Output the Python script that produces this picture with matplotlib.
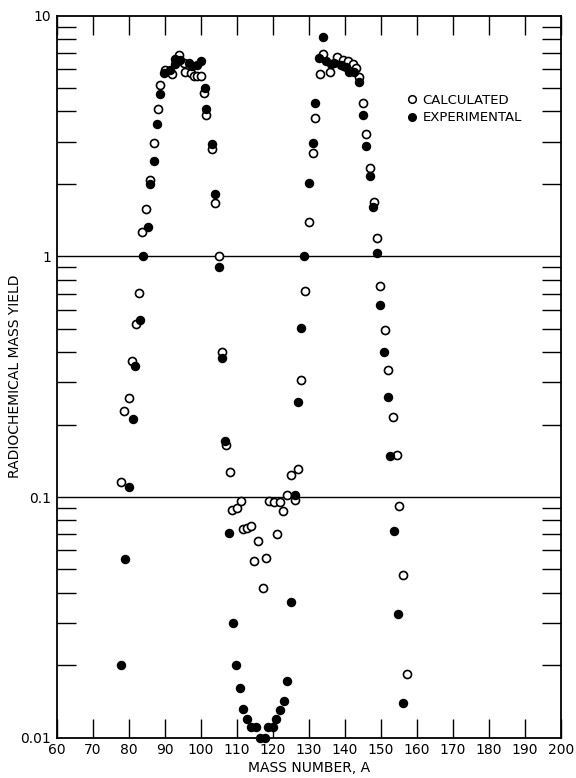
import matplotlib
matplotlib.use("Agg")
import matplotlib.pyplot as plt
from matplotlib.lines import Line2D
import numpy as np

# calculated yields (open circles)
mass_calc = [78.0, 78.8, 80.0, 80.9, 82.0, 82.9, 83.8, 84.8, 85.9, 87.0, 88.2, 88.8,
             90.0, 92.2, 94.1, 95.3, 95.8, 97.2, 98.1, 99.0, 100.2, 100.9, 101.6,
             103.2, 103.9, 105.0, 105.9, 107.0, 108.1, 108.8, 110.0, 111.1, 111.9,
             113.0, 114.1, 114.9, 115.9, 117.2, 118.1, 119.0, 120.4, 121.1, 122.0,
             123.0, 123.9, 125.2, 126.2, 127.1, 128.0, 129.0, 130.1, 131.1, 131.8,
             133.2, 134.0, 136.0, 138.0, 139.4, 139.9, 140.8, 142.2, 143.1, 144.1,
             145.0, 145.9, 147.0, 148.2, 149.0, 149.8, 151.1, 152.1, 153.4, 154.4,
             155.2, 156.3, 157.4]
yield_calc = [0.116, 0.228, 0.257, 0.366, 0.525, 0.705, 1.26, 1.57, 2.08, 2.95, 4.09, 5.13,
              5.95, 5.72, 6.87, 6.34, 5.82, 5.77, 5.61, 5.61, 5.61, 4.79, 3.87,
              2.79, 1.66, 1.00, 0.402, 0.164, 0.127, 0.0883, 0.0897, 0.0966, 0.0736,
              0.0741, 0.0760, 0.0543, 0.0658, 0.0420, 0.0558, 0.0966, 0.0957, 0.0703, 0.0951,
              0.0877, 0.102, 0.124, 0.097, 0.131, 0.305, 0.718, 1.39, 2.70, 3.77,
              5.73, 6.95, 5.82, 6.76, 6.55, 6.18, 6.49, 6.28, 6.08, 5.58,
              4.33, 3.24, 2.34, 1.69, 1.19, 0.753, 0.495, 0.337, 0.216, 0.150,
              0.092, 0.0474, 0.0184]

# experimental yields (filled circles)
mass_exp = [77.8, 78.9, 80.0, 81.2, 81.9, 83.1, 83.9, 85.3, 86.0, 87.2, 88.0, 88.6,
            89.8, 91.6, 92.8, 93.0, 94.4, 96.7, 97.7, 99.0, 100.0, 101.1, 101.6,
            103.2, 103.9, 105.1, 105.9, 106.8, 108.0, 109.0, 109.8, 110.9, 111.7,
            112.8, 113.9, 115.3, 116.5, 117.8, 118.7, 120.2, 120.9, 122.0, 123.2,
            123.9, 125.0, 126.2, 127.1, 128.0, 128.7, 130.1, 131.1, 131.8, 132.9,
            133.9, 134.8, 136.2, 137.1, 139.0, 140.4, 141.3, 142.5, 144.1, 145.0,
            146.0, 147.0, 147.9, 148.9, 149.8, 151.0, 152.0, 152.7, 153.8, 154.9, 156.2]
yield_exp = [0.0201, 0.0553, 0.110, 0.210, 0.349, 0.546, 1.00, 1.32, 2.00, 2.50, 3.55, 4.71,
             5.77, 5.95, 6.29, 6.59, 6.54, 6.37, 6.18, 6.24, 6.50, 4.99, 4.09,
             2.92, 1.82, 0.906, 0.379, 0.171, 0.0708, 0.0299, 0.0201, 0.0161, 0.0131,
             0.0120, 0.0111, 0.0111, 0.0100, 0.0100, 0.0111, 0.0111, 0.0120, 0.0130, 0.0142,
             0.0172, 0.0366, 0.102, 0.249, 0.506, 1.00, 2.02, 2.95, 4.35, 6.66,
             8.15, 6.49, 6.28, 6.34, 6.24, 6.14, 5.85, 5.82, 5.32, 3.86,
             2.88, 2.16, 1.61, 1.03, 0.628, 0.402, 0.261, 0.148, 0.0724, 0.0326, 0.0140]

x_ticks = list(range(60, 201, 10))
y_major = [0.01, 0.1, 1, 10]
y_labels = ["0.01", "0.1", "1", "10"]

fig = plt.figure(figsize=(5.76, 7.78), dpi=100)
ax = fig.add_axes([0.0981, 0.0518, 0.8755, 0.928])

ax.set_yscale("log")
ax.set_xlim(60, 200)
ax.set_ylim(0.01, 10)

ax.axhline(1, color="black", lw=1.0)
ax.axhline(0.1, color="black", lw=1.0)

ms = 5.8
ax.plot(mass_calc, yield_calc, "o", ms=ms, mfc="white", mec="black", mew=1.2,
        ls="none", clip_on=False, zorder=3)
ax.plot(mass_exp, yield_exp, "o", ms=ms, mfc="black", mec="black", mew=1.0,
        ls="none", clip_on=False, zorder=4)

ax.set_xticks(x_ticks)
ax.set_xticklabels([str(t) for t in x_ticks])
ax.set_yticks(y_major)
ax.set_yticklabels(y_labels)
minor = [m * d for d in [0.01, 0.1, 1] for m in range(2, 10)]
ax.set_yticks(minor, minor=True)
ax.yaxis.set_minor_formatter(matplotlib.ticker.NullFormatter())

ax.tick_params(axis="x", which="major", direction="in", length=14, width=1.0,
               top=True, labelsize=10, pad=4)
ax.tick_params(axis="y", which="major", direction="in", length=0, labelsize=10, pad=4)
ax.tick_params(axis="y", which="minor", direction="in", length=14, width=1.0,
               left=True, right=True)
ax.tick_params(axis="x", which="minor", bottom=False, top=False)

for s in ax.spines.values():
    s.set_linewidth(1.3)

ax.set_xlabel("MASS NUMBER, A", fontsize=10, va="center")
ax.set_ylabel("RADIOCHEMICAL MASS YIELD", fontsize=10, va="center")
ax.xaxis.set_label_coords(0.5, -0.042)
ax.yaxis.set_label_coords(-0.083, 0.5)

handles = [Line2D([], [], marker="o", ls="none", ms=5.5, mfc="white", mec="black", mew=1.1),
           Line2D([], [], marker="o", ls="none", ms=5.5, mfc="black", mec="black")]
fig.legend(handles, ["CALCULATED", "EXPERIMENTAL"], loc="upper left",
           bbox_to_anchor=(400 / 576, 1 - 87 / 778), frameon=False, fontsize=9.5,
           handlelength=0.8, handletextpad=0.4, labelspacing=0.35, borderpad=0)

fig.savefig("out.png", dpi=100)
